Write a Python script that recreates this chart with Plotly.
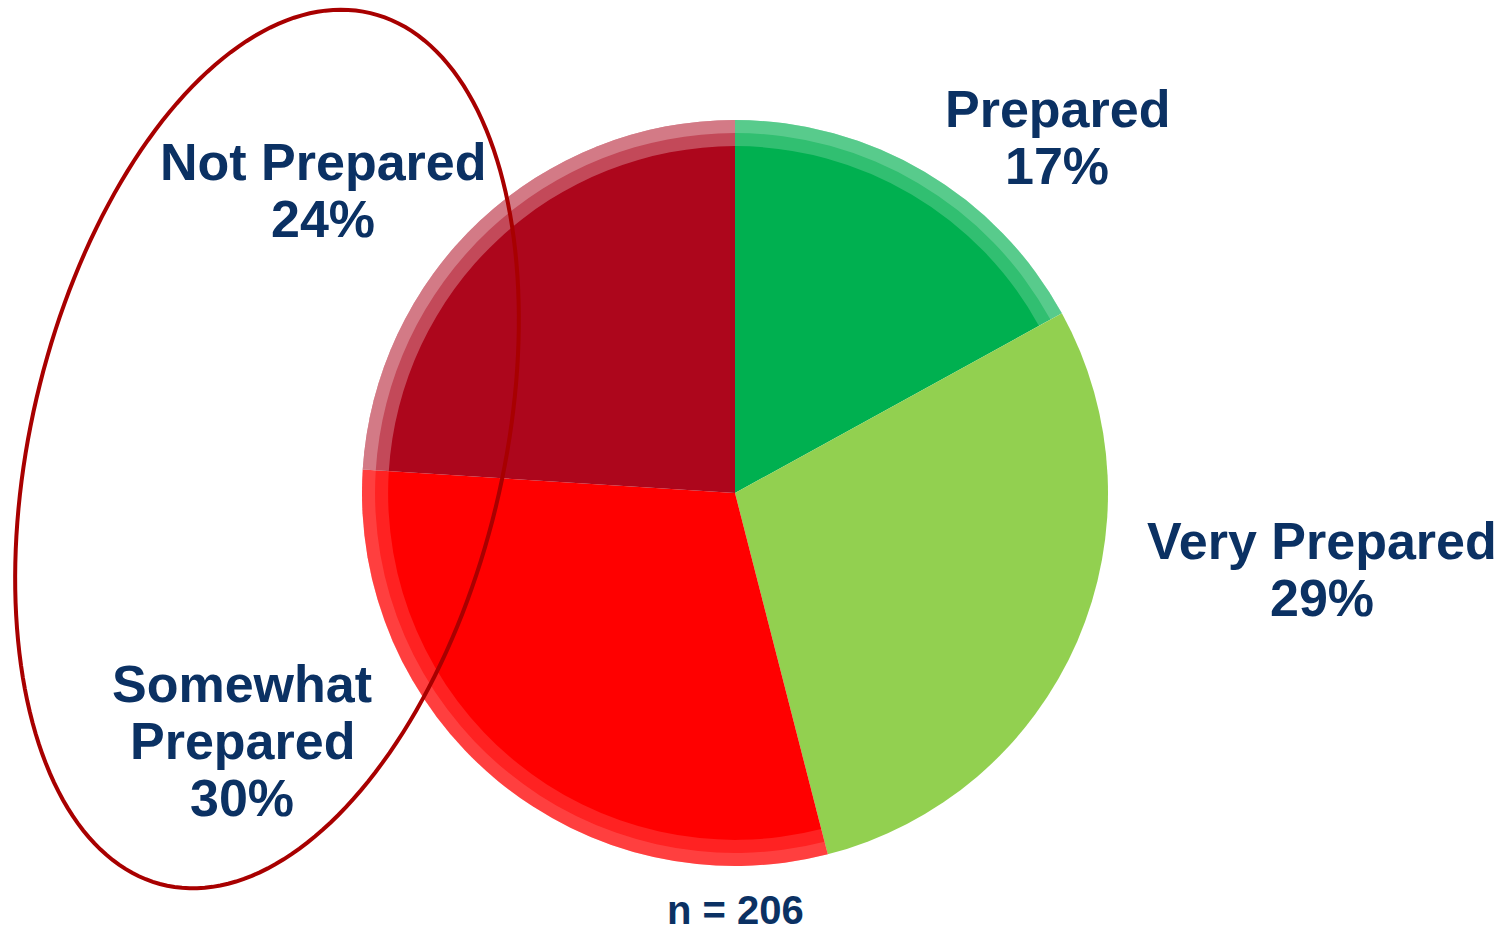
import numpy as np
import plotly.graph_objects as go

W, H = 1509, 931

# Survey responses (share of respondents, %), clockwise from 12 o'clock
categories = ["Prepared", "Very Prepared", "Somewhat Prepared", "Not Prepared"]
shares = [17, 29, 30, 24]
respondents = 206

colors = ["#00B050", "#92D050", "#FF0000", "#AD061C"]
# soft highlight along the rim of each slice (light from upper left)
rim_alpha = [0.32, 0.0, 0.22, 0.45]
navy = "#0B3163"

# label placement in pixels: centre x, y of first line, line breaks
label_layout = {
    "Prepared": (1057, 109, ["Prepared"]),
    "Very Prepared": (1322, 541, ["Very Prepared"]),
    "Somewhat Prepared": (242, 684, ["Somewhat", "Prepared"]),
    "Not Prepared": (323, 162, ["Not Prepared"]),
}
LINE_STEP = 57
FONT = "Liberation Sans, Arial, sans-serif"


def px(x):
    return x / W


def py(y):
    return 1 - y / H


# pie geometry (pixels)
cx, cy, r = 735, 493, 373
domain = dict(x=[px(cx - r), px(cx + r)], y=[py(cy + r), py(cy - r)])

fig = go.Figure()
fig.add_trace(go.Pie(
    labels=categories, values=shares, sort=False, direction="clockwise",
    rotation=0, marker=dict(colors=colors, line=dict(width=0)),
    textinfo="none", hoverinfo="label+percent", domain=domain,
    showlegend=False,
))
# two stacked translucent rings give the rim a soft bevelled look
for hole in (0.93, 0.965):
    fig.add_trace(go.Pie(
        labels=categories, values=shares, sort=False, direction="clockwise",
        rotation=0, hole=hole,
        marker=dict(colors=[f"rgba(255,255,255,{a * 0.6:.3f})" for a in rim_alpha],
                    line=dict(width=0)),
        textinfo="none", hoverinfo="skip", domain=domain, showlegend=False,
    ))

annotations = []
for cat, val in zip(categories, shares):
    x0, y0, lines = label_layout[cat]
    for i, line in enumerate(lines + [f"{val}%"]):
        annotations.append(dict(
            x=px(x0), y=py(y0 + i * LINE_STEP), xref="paper", yref="paper",
            text=f"<b>{line}</b>", showarrow=False, xanchor="center",
            yanchor="middle", font=dict(family=FONT, size=52, color=navy),
        ))
annotations.append(dict(
    x=px(735), y=py(910), xref="paper", yref="paper",
    text=f"<b>n = {respondents}</b>", showarrow=False, xanchor="center",
    yanchor="middle", font=dict(family=FONT, size=40, color=navy),
))

# tilted ellipse grouping the two "unprepared" answers
ecx, ecy, ea, eb, tilt = 267, 449, 448, 236, np.radians(13.35)
t = np.linspace(0, 2 * np.pi, 200)
ex = ecx + ea * np.sin(tilt) * np.cos(t) + eb * np.cos(tilt) * np.sin(t)
ey = ecy - ea * np.cos(tilt) * np.cos(t) + eb * np.sin(tilt) * np.sin(t)
path = "M " + " L ".join(f"{px(a):.5f},{py(b):.5f}" for a, b in zip(ex, ey)) + " Z"

fig.update_layout(
    width=W, height=H, margin=dict(l=0, r=0, t=0, b=0),
    paper_bgcolor="white", plot_bgcolor="white",
    annotations=annotations,
    shapes=[dict(type="path", path=path, xref="paper", yref="paper",
                 line=dict(color="#A80000", width=4))],
)

fig.write_html("out.html")
